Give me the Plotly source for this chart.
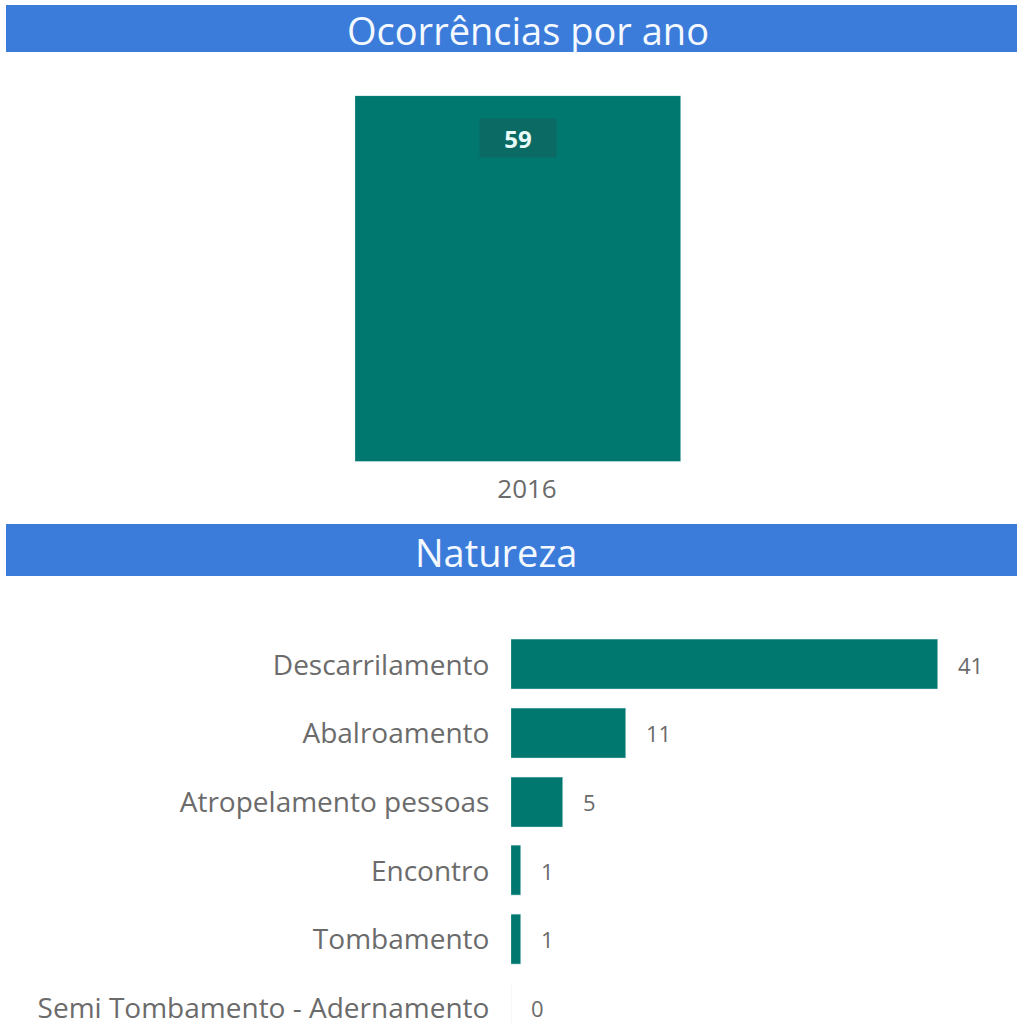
import plotly.graph_objects as go

# Occurrences per year
anos = ["2016"]
ocorrencias = [59]

# Occurrences by nature
naturezas = [
    "Descarrilamento",
    "Abalroamento",
    "Atropelamento pessoas",
    "Encontro",
    "Tombamento",
    "Semi Tombamento - Adernamento",
]
quantidades = [41, 11, 5, 1, 1, 0]

W, H = 1027, 1026
TEAL = "#00786f"
BLUE = "#3b7cdb"
GREY = "#6b6b6b"
FONT = "Open Sans"


def px_x(x):
    return x / W


def px_y(y):
    return 1 - y / H


fig = go.Figure()

fig.add_trace(go.Bar(
    x=anos, y=ocorrencias, marker_color=TEAL, width=1.0,
    xaxis="x", yaxis="y", showlegend=False, hoverinfo="x+y",
))

fig.add_trace(go.Bar(
    x=quantidades, y=naturezas, orientation="h", marker_color=TEAL, width=0.73,
    xaxis="x2", yaxis="y2", showlegend=False, hoverinfo="x+y",
))

annotations = []

# section headers
annotations.append(dict(
    x=px_x(528), y=px_y(30), xref="paper", yref="paper", text="Ocorrências por ano",
    xanchor="center", yanchor="middle",
    showarrow=False, font=dict(family=FONT, size=38, color="#f4f9ff"),
))
annotations.append(dict(
    x=px_x(496), y=px_y(553), xref="paper", yref="paper", text="Natureza",
    xanchor="center", yanchor="middle",
    showarrow=False, font=dict(family=FONT, size=38, color="#f4f9ff"),
))

# value labels
for i, v in enumerate(ocorrencias):
    annotations.append(dict(
        x=i, y=v, xref="x", yref="y", text=f"<b>{v}</b>", showarrow=False,
        yanchor="top", yshift=-22, width=76, height=38, borderpad=0,
        font=dict(family=FONT, size=24, color="#e8fbf8"),
        bgcolor="#0b6a63",
    ))
for i, v in enumerate(quantidades):
    annotations.append(dict(
        x=v, y=i, xref="x2", yref="y2", text=str(v), showarrow=False,
        xanchor="left", xshift=18, font=dict(family=FONT, size=22, color=GREY),
    ))

shapes = [
    dict(type="rect", xref="paper", yref="paper", x0=px_x(6), x1=px_x(1017),
         y0=px_y(52), y1=px_y(5), fillcolor=BLUE, line_width=0, layer="below"),
    dict(type="rect", xref="paper", yref="paper", x0=px_x(6), x1=px_x(1017),
         y0=px_y(577), y1=px_y(525), fillcolor=BLUE, line_width=0, layer="below"),
]

# category scale for the horizontal bars: row pitch ~68.8px, first row centred at y=666
pitch = 68.8
top_px = 666 - pitch / 2
bottom_idx = (H - 666) / pitch

fig.update_layout(
    width=W, height=H,
    margin=dict(l=0, r=0, t=0, b=0),
    paper_bgcolor="white", plot_bgcolor="rgba(0,0,0,0)",
    font=dict(family=FONT, color=GREY),
    bargap=0,
    xaxis=dict(domain=[px_x(355), px_x(681)], range=[-0.5, 0.5], anchor="y",
               type="category",
               showgrid=False, zeroline=False, showline=False,
               tickfont=dict(family=FONT, size=26, color=GREY),
               ticks="outside", ticklen=4, tickcolor="rgba(0,0,0,0)",
               ticklabelshift=9),
    yaxis=dict(domain=[px_y(463), px_y(96)], range=[0, 59], anchor="x",
               visible=False),
    xaxis2=dict(domain=[px_x(511), 1.0], range=[0, (W - 511) / 10.41], anchor="y2",
                visible=False),
    yaxis2=dict(domain=[0, px_y(top_px)], range=[bottom_idx, -0.5], anchor="x2",
                type="category", showgrid=False, zeroline=False, showline=False,
                tickfont=dict(family=FONT, size=28, color=GREY),
                ticks="outside", ticklen=15, tickcolor="rgba(0,0,0,0)"),
    annotations=annotations,
    shapes=shapes,
)

fig.write_html("out.html")
